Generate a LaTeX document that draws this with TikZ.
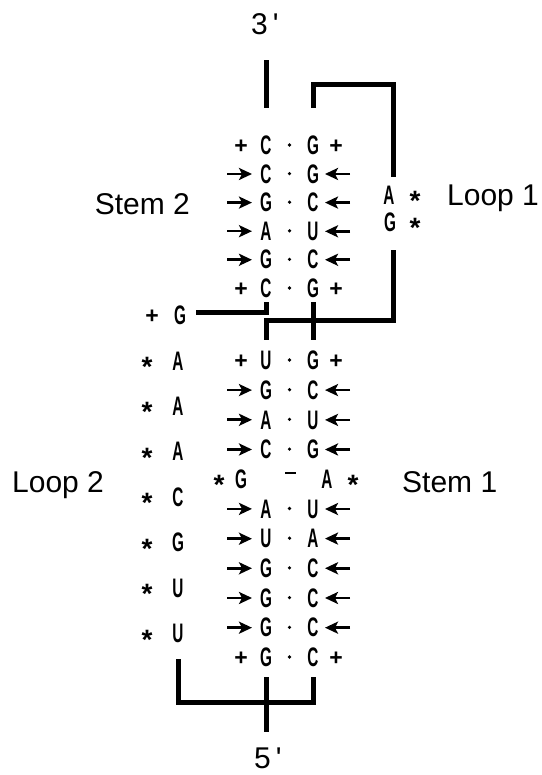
\documentclass[tikz,border=0pt]{standalone}
\usepackage{fontspec}
\usepackage{graphicx}
\setmainfont{Liberation Sans}
\usetikzlibrary{arrows.meta,calc}
\newcommand\nt[1]{\scalebox{0.6}[1.05]{#1}}
\tikzset{
 nuc/.style={anchor=base,inner sep=1pt,font=\bfseries\fontsize{25.5}{30}\selectfont},
 mk/.style={anchor=base,inner sep=0pt,font=\bfseries\fontsize{23}{28}\selectfont},
 ast/.style={anchor=base,inner sep=0pt,font=\bfseries\fontsize{28}{32}\selectfont},
 lab/.style={anchor=base west,inner sep=0pt,font=\fontsize{30}{36}\selectfont},
 bpdot/.style={circle,fill,inner sep=0pt,minimum size=3.6pt},
 dashmark/.style={rectangle,fill,inner sep=0pt,minimum width=11pt,minimum height=2.2pt},
 arr/.style={line width=2.6pt,-{Stealth[length=13pt,width=12pt,inset=3pt]}},
 bb/.style={line width=5pt,line join=miter}
}
\newcommand\nucrow[5]{%
 \node[nuc] (#1L) at (266,#2+9.6) {\nt{#3}};
 \node[nuc] (#1R) at (313,#2+9.6) {\nt{#4}};
 \node[bpdot] (#1D) at (289.5,#2) {};
 \if p#5
   \node[mk] (#1P) at (241,#2+8.2) {+};
   \node[mk] (#1Q) at (336,#2+8.2) {+};
 \else
   \draw[arr] ([xshift=-39pt]#1L.center) -- ([xshift=-14pt]#1L.center);
   \draw[arr] ([xshift=37pt]#1R.center) -- ([xshift=12pt]#1R.center);
 \fi}
\begin{document}
\begin{tikzpicture}[x=1pt,y=-1pt]
\useasboundingbox (0,0) rectangle (541,775);
% labels
\node[lab] (n3) at (251,35) {3\hspace{5pt}\textquotesingle};
\node[lab] (n5) at (254,768) {5\hspace{5pt}\textquotesingle};
\node[lab,anchor=base east] (lbS2) at (190,214.7) {Stem 2};
\node[lab] (lbL1) at (447,205.7) {Loop 1};
\node[lab] (lbL2) at (12,492.7) {Loop 2};
\node[lab] (lbS1) at (402,492.7) {Stem 1};
% stem 2
\nucrow{s2a}{145}{C}{G}{p}
\nucrow{s2b}{173.6}{C}{G}{a}
\nucrow{s2c}{202.2}{G}{C}{a}
\nucrow{s2d}{230.8}{A}{U}{a}
\nucrow{s2e}{259.4}{G}{C}{a}
\nucrow{s2f}{288}{C}{G}{p}
% stem 1
\nucrow{s1a}{360}{U}{G}{p}
\nucrow{s1b}{389.7}{G}{C}{a}
\nucrow{s1c}{419.4}{A}{U}{a}
\nucrow{s1d}{449.1}{C}{G}{a}
\nucrow{s1f}{508.5}{A}{U}{a}
\nucrow{s1g}{538.2}{U}{A}{a}
\nucrow{s1h}{567.9}{G}{C}{a}
\nucrow{s1i}{597.6}{G}{C}{a}
\nucrow{s1j}{627.3}{G}{C}{a}
\nucrow{s1k}{657}{G}{C}{p}
% bulge
\node[ast] (bgS) at (219,494.8) {*};
\node[nuc] (bgG) at (241,488.4) {\nt{G}};
\node[dashmark] (bgD) at (290,473) {};
\node[nuc] (bgA) at (327,488.4) {\nt{A}};
\node[ast] (bgT) at (353,494.8) {*};
% loop 1
\node[nuc] (lpA) at (389,204.6) {\nt{A}};
\node[ast] (lpAs) at (415,211) {*};
\node[nuc] (lpG) at (390,231.6) {\nt{G}};
\node[ast] (lpGs) at (415,238) {*};
% loop 2
\node[mk] (lgP) at (152,323.2) {+};
\node[nuc] (lgG) at (180,324.6) {\nt{G}};
\node[ast] (l1s) at (147,376.4) {*};  \node[nuc] (l1) at (178,370.0) {\nt{A}};
\node[ast] (l2s) at (147,421.9) {*};  \node[nuc] (l2) at (178,415.5) {\nt{A}};
\node[ast] (l3s) at (147,467.3) {*};  \node[nuc] (l3) at (178,460.9) {\nt{A}};
\node[ast] (l4s) at (147,512.7) {*};  \node[nuc] (l4) at (178,506.3) {\nt{C}};
\node[ast] (l5s) at (147,558.1) {*};  \node[nuc] (l5) at (178,551.7) {\nt{G}};
\node[ast] (l6s) at (147,603.6) {*};  \node[nuc] (l6) at (178,597.2) {\nt{U}};
\node[ast] (l7s) at (147,649.0) {*};  \node[nuc] (l7) at (178,642.6) {\nt{U}};
% backbone connectors
\coordinate (t3) at ($(n3.south)+(0,25)$);
\coordinate (t1) at (0,108);
\coordinate (tt) at (0,85);
\coordinate (mid) at (0,320);
\coordinate (lft) at (0,312);
\coordinate (bot) at (0,702);
\coordinate (c5) at ($(n5.north)+(0,-15)$);
\draw[bb] (s2aL.north |- t3) -- (s2aL.north |- t1);
\draw[bb] (s2aR.north |- t1) -- (s2aR.north |- tt) -| ($(lpA.north)+(4,-8)$);
\draw[bb] ($(lpG.south)+(3,17)$) |- (s1aL.north |- mid) -- ($(s1aL.north)+(0,-10)$);
\draw[bb] ($(s2fL.south)+(0,3)$) |- ($(lgG.east |- lft)+(9,0)$);
\draw[bb] ($(s2fR.south)+(0,3)$) -- ($(s1aR.north)+(0,-10)$);
\draw[bb] ($(l7.south)+(0,15)$) |- (s1kR.south |- bot) -- ($(s1kR.south)+(0,9)$);
\draw[bb] ($(s1kL.south)+(0,9)$) -- (s1kL.south |- c5);
\end{tikzpicture}
\end{document}
